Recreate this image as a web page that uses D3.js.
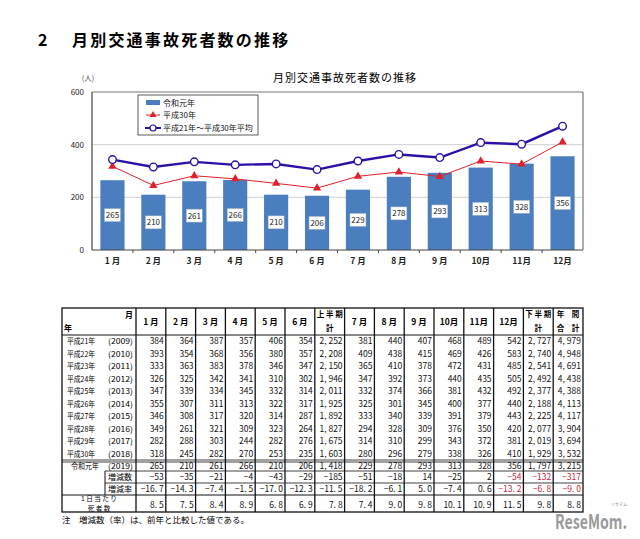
<!DOCTYPE html>
<html>
<head>
<meta charset="utf-8">
<script src="https://cdn.jsdelivr.net/npm/d3@7"></script>
<style>
  body { margin: 0; background: #fff; }
  svg text { font-family: "Noto Sans CJK JP", "Noto Sans", sans-serif; }
</style>
</head>
<body>
<div id="chart"></div>
<script>
// chart data
var months = ["1 月", "2 月", "3 月", "4 月", "5 月", "6 月", "7 月", "8 月", "9 月", "10月", "11月", "12月"];
var reiwa1 = [265, 210, 261, 266, 210, 206, 229, 278, 293, 313, 328, 356];
var heisei30 = [318, 245, 282, 270, 253, 235, 280, 296, 279, 338, 326, 410];
var avg0918 = [343.3, 315.4, 334.8, 323.3, 326.8, 305.3, 338.0, 362.9, 351.0, 407.8, 401.7, 470.1];
var yTicks = [0, 200, 400, 600];
var legendNames = ["令和元年", "平成30年", "平成21年～平成30年平均"];

// table data
var colHeads = [["1 月"], ["2 月"], ["3 月"], ["4 月"], ["5 月"], ["6 月"], ["上 半 期", "計"],
  ["7 月"], ["8 月"], ["9 月"], ["10月"], ["11月"], ["12月"], ["下 半 期", "計"], ["年　間", "合　計"]];
var yearNames = ["平成21年", "平成22年", "平成23年", "平成24年", "平成25年", "平成26年", "平成27年", "平成28年", "平成29年", "平成30年"];
var yearNums = ["(2009)", "(2010)", "(2011)", "(2012)", "(2013)", "(2014)", "(2015)", "(2016)", "(2017)", "(2018)"];
var yearRows = [
  [384, 364, 387, 357, 406, 354, 2252, 381, 440, 407, 468, 489, 542, 2727, 4979],
  [393, 354, 368, 356, 380, 357, 2208, 409, 438, 415, 469, 426, 583, 2740, 4948],
  [333, 363, 383, 378, 346, 347, 2150, 365, 410, 378, 472, 431, 485, 2541, 4691],
  [326, 325, 342, 341, 310, 302, 1946, 347, 392, 373, 440, 435, 505, 2492, 4438],
  [347, 339, 334, 345, 332, 314, 2011, 332, 374, 366, 381, 432, 492, 2377, 4388],
  [355, 307, 311, 313, 322, 317, 1925, 325, 301, 345, 400, 377, 440, 2188, 4113],
  [346, 308, 317, 320, 314, 287, 1892, 333, 340, 339, 391, 379, 443, 2225, 4117],
  [349, 261, 321, 309, 323, 264, 1827, 294, 328, 309, 376, 350, 420, 2077, 3904],
  [282, 288, 303, 244, 282, 276, 1675, 314, 310, 299, 343, 372, 381, 2019, 3694],
  [318, 245, 282, 270, 253, 235, 1603, 280, 296, 279, 338, 326, 410, 1929, 3532]
];
var reiwaRow = [265, 210, 261, 266, 210, 206, 1418, 229, 278, 293, 313, 328, 356, 1797, 3215];
var diffCount = [-53, -35, -21, -4, -43, -29, -185, -51, -18, 14, -25, 2, -54, -132, -317];
var diffRate = [-16.7, -14.3, -7.4, -1.5, -17.0, -12.3, -11.5, -18.2, -6.1, 5.0, -7.4, 0.6, -13.2, -6.8, -9.0];
var perDay = [8.5, 7.5, 8.4, 8.9, 6.8, 6.9, 7.8, 7.4, 9.0, 9.8, 10.1, 10.9, 11.5, 9.8, 8.8];

var W = 640, H = 539;
var blue = "#4a7ebf", red = "#e0202a", purple = "#2e10a6", negRed = "#c8283c";

var svg = d3.select("#chart").append("svg")
  .attr("width", W).attr("height", H);

// page heading
svg.append("text").attr("x", 38).attr("y", 46)
  .style("font-size", "16px").style("font-weight", "bold")
  .text("2");
svg.append("text").attr("x", 72).attr("y", 46)
  .style("font-size", "16px").style("font-weight", "bold").style("letter-spacing", "2.2px")
  .text("月別交通事故死者数の推移");

function drawChart() {
  var x = d3.scaleBand().domain(months).range([92, 583]).paddingInner(0.41).paddingOuter(0.205);
  var y = d3.scaleLinear().domain([0, 600]).range([250, 92]);
  var g = svg.append("g");

  g.append("text").attr("x", 345).attr("y", 82).attr("text-anchor", "middle")
    .style("font-size", "11px").style("letter-spacing", "1px")
    .text("月別交通事故死者数の推移");
  g.append("text").attr("x", 88).attr("y", 81).attr("text-anchor", "middle")
    .style("font-size", "7.5px").attr("fill", "#555").text("(人)");

  // grid
  g.selectAll(".grid").data(yTicks.slice(1)).join("line")
    .attr("x1", 92).attr("x2", 583)
    .attr("y1", function (d) { return y(d); }).attr("y2", function (d) { return y(d); })
    .attr("stroke", function (d) { return d === 600 ? "#777" : "#d0d0d0"; })
    .attr("stroke-width", function (d) { return d === 600 ? 1.2 : 1; });
  g.append("line").attr("x1", 583).attr("x2", 583).attr("y1", y(600)).attr("y2", y(0))
    .attr("stroke", "#777").attr("stroke-width", 1.2);

  g.selectAll(".ylab").data(yTicks).join("text")
    .attr("x", 84).attr("y", function (d) { return y(d) + 3; })
    .attr("text-anchor", "end").style("font-size", "8px").attr("fill", "#222")
    .text(function (d) { return d; });

  // bars
  g.selectAll(".bar").data(reiwa1).join("rect")
    .attr("x", function (d, i) { return x(months[i]); })
    .attr("y", function (d) { return y(d); })
    .attr("width", x.bandwidth())
    .attr("height", function (d) { return y(0) - y(d); })
    .attr("fill", blue);

  // axes
  g.append("line").attr("x1", 92).attr("x2", 92).attr("y1", y(600)).attr("y2", y(0))
    .attr("stroke", "#444").attr("stroke-width", 1.2);
  g.append("line").attr("x1", 92).attr("x2", 583).attr("y1", y(0)).attr("y2", y(0))
    .attr("stroke", "#444").attr("stroke-width", 1.2);
  g.selectAll(".xtick").data(d3.range(1, 12)).join("line")
    .attr("x1", function (i) { return x(months[i]) - x.step() * x.paddingInner() / 2; })
    .attr("x2", function (i) { return x(months[i]) - x.step() * x.paddingInner() / 2; })
    .attr("y1", y(0)).attr("y2", y(0) + 3).attr("stroke", "#444");
  g.selectAll(".xlab").data(months).join("text")
    .attr("x", function (d) { return x(d) + x.bandwidth() / 2; })
    .attr("y", 264).attr("text-anchor", "middle")
    .style("font-size", "8.5px").style("font-weight", "bold").attr("fill", "#222")
    .text(function (d) { return d; });

  // bar value labels
  var lab = g.selectAll(".blab").data(reiwa1).join("g")
    .attr("transform", function (d, i) {
      return "translate(" + (x(months[i]) + x.bandwidth() / 2) + "," + ((y(d) + y(0)) / 2) + ")";
    });
  lab.append("rect").attr("x", -8).attr("y", -6.5).attr("width", 16).attr("height", 13)
    .attr("fill", "#fff").attr("stroke", "#9ab").attr("stroke-width", 0.5);
  lab.append("text").attr("text-anchor", "middle").attr("y", 3)
    .style("font-size", "8px").attr("fill", "#222")
    .text(function (d) { return d; });

  var cx = function (d, i) { return x(months[i]) + x.bandwidth() / 2; };
  var line = d3.line().x(cx).y(function (d) { return y(d); });

  // 平成30年
  g.append("path").datum(heisei30).attr("d", line)
    .attr("fill", "none").attr("stroke", red).attr("stroke-width", 1);
  g.selectAll(".tri").data(heisei30).join("path")
    .attr("d", d3.symbol().type(d3.symbolTriangle).size(30))
    .attr("transform", function (d, i) { return "translate(" + cx(d, i) + "," + y(d) + ")"; })
    .attr("fill", red);

  // 平均
  g.append("path").datum(avg0918).attr("d", line)
    .attr("fill", "none").attr("stroke", purple).attr("stroke-width", 2.4);
  g.selectAll(".dot").data(avg0918).join("circle")
    .attr("cx", cx).attr("cy", function (d) { return y(d); }).attr("r", 3.8)
    .attr("fill", "#fff").attr("stroke", purple).attr("stroke-width", 1.4);

  // legend
  var lg = g.append("g").attr("transform", "translate(138,95)");
  lg.append("rect").attr("width", 120).attr("height", 40)
    .attr("fill", "#fff").attr("stroke", "#333").attr("stroke-width", 0.8);
  var ly = [7.5, 20, 33];
  lg.append("rect").attr("x", 8).attr("y", ly[0] - 2.5).attr("width", 14).attr("height", 5).attr("fill", blue);
  lg.append("line").attr("x1", 8).attr("x2", 22).attr("y1", ly[1]).attr("y2", ly[1]).attr("stroke", red);
  lg.append("path").attr("d", d3.symbol().type(d3.symbolTriangle).size(22))
    .attr("transform", "translate(15," + ly[1] + ")").attr("fill", red);
  lg.append("line").attr("x1", 7).attr("x2", 23).attr("y1", ly[2]).attr("y2", ly[2])
    .attr("stroke", purple).attr("stroke-width", 2);
  lg.append("circle").attr("cx", 15).attr("cy", ly[2]).attr("r", 3)
    .attr("fill", "#fff").attr("stroke", purple).attr("stroke-width", 1.2);
  lg.selectAll(".lt").data(legendNames).join("text")
    .attr("x", 25).attr("y", function (d, i) { return ly[i] + 3; })
    .style("font-size", "8px").attr("fill", "#111")
    .text(function (d) { return d; });
}

function fmt(v, dec) {
  var s = dec ? d3.format(".1f")(v) : d3.format(",")(v);
  return s.replace(/,/g, ", ").replace(/\./g, ". ");
}

function drawTable() {
  var left = 62, right = 583, colStart = 136, top = 308;
  var col = d3.scaleBand().domain(d3.range(15)).range([colStart, right]);
  var headBottom = 335, rowH = 12.5;
  var yearTop = function (i) { return headBottom + i * rowH; };
  var dataEnd = yearTop(10);
  var rRow = [dataEnd + 1, 471], cRow = [471, 483], pRow = [483, 495], dRow = [495, 512];
  var t = svg.append("g");
  var fs = "8.5px";

  // header
  colHeads.forEach(function (h, i) {
    var cxm = col(i) + col.bandwidth() / 2;
    if (h.length === 1) {
      t.append("text").attr("x", cxm).attr("y", 324.5).attr("text-anchor", "middle")
        .style("font-size", fs).style("font-weight", "bold").text(h[0]);
    } else {
      t.append("text").attr("x", cxm).attr("y", 317).attr("text-anchor", "middle")
        .style("font-size", "7.5px").style("font-weight", "bold").text(h[0]);
      t.append("text").attr("x", cxm).attr("y", 331).attr("text-anchor", "middle")
        .style("font-size", "7.5px").style("font-weight", "bold").text(h[1]);
    }
  });
  t.append("text").attr("x", 133).attr("y", 318).attr("text-anchor", "end")
    .style("font-size", "8px").style("font-weight", "bold").text("月");
  t.append("text").attr("x", 64).attr("y", 331)
    .style("font-size", "8px").style("font-weight", "bold").text("年");

  function numRow(vals, yc, dec, colorFn) {
    t.selectAll(null).data(vals).join("text")
      .attr("x", function (d, i) { return col(i) + col.bandwidth() - 2; })
      .attr("y", yc + 3.2).attr("text-anchor", "end")
      .style("font-size", fs)
      .attr("fill", function (d, i) { return colorFn ? colorFn(d, i) : "#111"; })
      .text(function (d) { return fmt(d, dec); });
  }

  function yearLabel(name, num, yc, nx) {
    t.append("text").attr("x", nx).attr("y", yc + 3.2).style("font-size", "8px")
      .attr("textLength", 28).attr("lengthAdjust", "spacingAndGlyphs").text(name);
    t.append("text").attr("x", 108).attr("y", yc + 3.2).style("font-size", "8px")
      .attr("textLength", 25).attr("lengthAdjust", "spacingAndGlyphs").text(num);
  }

  yearRows.forEach(function (r, k) {
    var yc = yearTop(k) + rowH / 2;
    yearLabel(yearNames[k], yearNums[k], yc, 67);
    numRow(r, yc, false);
  });

  var rc = (rRow[0] + rRow[1]) / 2;
  yearLabel("令和元年", "(2019)", rc, 71);
  numRow(reiwaRow, rc, false);

  var red3 = function (d, i) { return i >= 12 ? negRed : "#111"; };
  var cc = (cRow[0] + cRow[1]) / 2, pc = (pRow[0] + pRow[1]) / 2, dc = (dRow[0] + dRow[1]) / 2;
  t.append("text").attr("x", 120).attr("y", cc + 3.2).attr("text-anchor", "middle").style("font-size", "8px").text("増減数");
  t.append("text").attr("x", 120).attr("y", pc + 3.2).attr("text-anchor", "middle").style("font-size", "8px").text("増減率");
  numRow(diffCount, cc, false, red3);
  numRow(diffRate, pc, true, red3);

  t.append("text").attr("x", 99).attr("y", 501).attr("text-anchor", "middle").style("font-size", "6.6px").text("1 日 当 た り");
  t.append("text").attr("x", 99).attr("y", 510.5).attr("text-anchor", "middle").style("font-size", "6.6px").text("死 者 数");
  numRow(perDay, dc + 1, true);

  // rules
  var stroke = "#111";
  t.append("rect").attr("x", left).attr("y", top).attr("width", right - left).attr("height", dRow[1] - top)
    .attr("fill", "none").attr("stroke", stroke).attr("stroke-width", 1.3);
  d3.range(15).forEach(function (i) {
    var xv = col(i);
    t.append("line").attr("x1", xv).attr("x2", xv).attr("y1", top).attr("y2", dRow[1])
      .attr("stroke", stroke).attr("stroke-width", 1.3);
  });
  t.append("line").attr("x1", 105).attr("x2", 105).attr("y1", cRow[0]).attr("y2", pRow[1])
    .attr("stroke", stroke).attr("stroke-width", 1);
  var hl = [[left, headBottom, 1], [left, dataEnd, 0.8], [left, dataEnd + 2, 0.8],
            [105, cRow[0], 0.8], [105, pRow[0], 0.8], [left, dRow[0], 1]];
  hl.forEach(function (h) {
    t.append("line").attr("x1", h[0]).attr("x2", right).attr("y1", h[1]).attr("y2", h[1])
      .attr("stroke", stroke).attr("stroke-width", h[2]);
  });

  t.append("text").attr("x", 62).attr("y", 523).style("font-size", "8.5px")
    .text("注　増減数（率）は、前年と比較した値である。");
}

drawChart();
drawTable();

// watermark
svg.append("text").attr("x", 555).attr("y", 529)
  .style("font-size", "20px").style("font-weight", "bold")
  .attr("textLength", 72).attr("lengthAdjust", "spacingAndGlyphs")
  .attr("fill", "#8a8a8a").attr("opacity", 0.85).text("ReseMom.");
svg.append("text").attr("x", 627).attr("y", 506).attr("text-anchor", "end")
  .style("font-size", "4px").attr("fill", "#8a8a8a").text("リセマム");
</script>
</body>
</html>
